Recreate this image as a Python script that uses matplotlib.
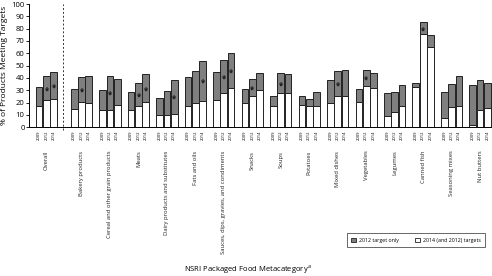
import matplotlib
matplotlib.use("Agg")
import matplotlib.pyplot as plt
from matplotlib.patches import Patch
import numpy as np

plt.rcParams['font.family'] = ['Open Sans', 'DejaVu Sans']

categories = ["Overall", "Bakery products", "Cereal and other grain products", "Meats",
              "Dairy products and substitutes", "Fats and oils",
              "Sauces, dips, gravies, and condiments", "Snacks", "Soups", "Potatoes",
              "Mixed dishes", "Vegetables", "Legumes", "Canned fish",
              "Seasoning mixes", "Nut butters"]
years = ["2009", "2012", "2014"]

# % meeting 2012 target (top of stacked bar), per year 2009/2012/2014
target_2012 = [
    [33, 41.5, 44.5], [31, 40.5, 42], [30, 41.5, 39.5], [28.5, 36, 43],
    [23.5, 29.5, 38.5], [41, 45.5, 54], [44.5, 54.5, 60.5], [31, 39, 44],
    [25, 44, 43], [25.5, 23, 29], [38, 45.5, 46.5], [31, 46.5, 44],
    [28, 28.5, 34.5], [36, 85, 74.5], [28.5, 35, 42], [34, 38, 36],
]
# % meeting both 2014 and 2012 targets (white part)
target_both = [
    [17, 22, 23], [15, 20.5, 19.5], [14, 14, 18], [14, 17, 20.5],
    [10, 10, 11], [17, 19.5, 21], [22.5, 27.5, 31.5], [19.5, 25, 30],
    [17.5, 27.5, 28], [18, 17, 17], [20, 25, 25], [20.5, 33.5, 32],
    [9.5, 12, 17.5], [33, 75.5, 65.5], [7.5, 16.5, 17], [2, 14, 15.5],
]
# (category, year) pairs flagged with an asterisk
starred = [(0, 1), (0, 2), (1, 1), (2, 1), (3, 1), (3, 2), (4, 2), (5, 2),
           (6, 1), (6, 2), (7, 1), (8, 1), (10, 1), (11, 1), (13, 1)]

grey = '#7f7f7f'
edge = '#222222'

fig = plt.figure(figsize=(4.92, 2.76), dpi=100)
ax = fig.add_axes([0.0583, 0.5388, 0.9417, 0.4467])

pitch = 3.9
starts = [-4.8] + [pitch * i for i in range(len(categories) - 1)]
tick_pos, tick_lab = [], []
for c, s in enumerate(starts):
    xs = s + np.arange(3)
    both = np.array(target_both[c])
    tot = np.array(target_2012[c])
    ax.bar(xs, both, width=0.92, color='white', edgecolor=edge, linewidth=0.7)
    ax.bar(xs, tot - both, bottom=both, width=0.92, color=grey,
           edgecolor=edge, linewidth=0.7)
    tick_pos += list(xs)
    tick_lab += years
    ax.text(s + 1, -0.19, categories[c], transform=ax.get_xaxis_transform(),
            rotation=90, ha='center', va='top', fontsize=4.2, color='#222222')
    for (cc, yi) in starred:
        if cc == c:
            ax.text(xs[yi], (both[yi] + tot[yi]) / 2 - 2, '*', ha='center',
                    va='center', fontsize=5.5, color='#111111', fontweight='bold')

ax.axvline(-1.49, ymin=-0.02, ymax=1, color='#333333', linestyle=(0, (2, 2)),
           linewidth=0.7, clip_on=False)

ax.set_xlim(-6.23, 57.23)
ax.set_ylim(0, 100)
ax.set_yticks(range(0, 101, 10))
ax.tick_params(axis='y', labelsize=5.5, length=2, width=0.6, pad=1)
ax.set_xticks(tick_pos)
ax.set_xticklabels(tick_lab, rotation=90, fontsize=3)
ax.tick_params(axis='x', length=0, pad=2)
for sp in ['top', 'right']:
    ax.spines[sp].set_visible(False)
for sp in ['left', 'bottom']:
    ax.spines[sp].set_linewidth(0.7)
ax.set_ylabel('% of Products Meeting Targets', fontsize=6, labelpad=2)

fig.text(0.504, 0.022, 'NSRI Packaged Food Metacategory$^\\mathregular{a}$',
         ha='center', va='center', fontsize=5.5)

handles = [Patch(facecolor=grey, edgecolor=edge, linewidth=0.6, label='2012 target only'),
           Patch(facecolor='white', edgecolor=edge, linewidth=0.6,
                 label='2014 (and 2012) targets')]
leg = fig.legend(handles=handles, loc='center', bbox_to_anchor=(0.845, 0.130), ncol=2,
                 fontsize=3.8, frameon=True, fancybox=False, handlelength=1,
                 handleheight=1, handletextpad=0.5, columnspacing=3,
                 borderpad=0.8)
leg.get_frame().set_edgecolor('#222222')
leg.get_frame().set_linewidth(0.6)

fig.savefig('out.png', dpi=100)
